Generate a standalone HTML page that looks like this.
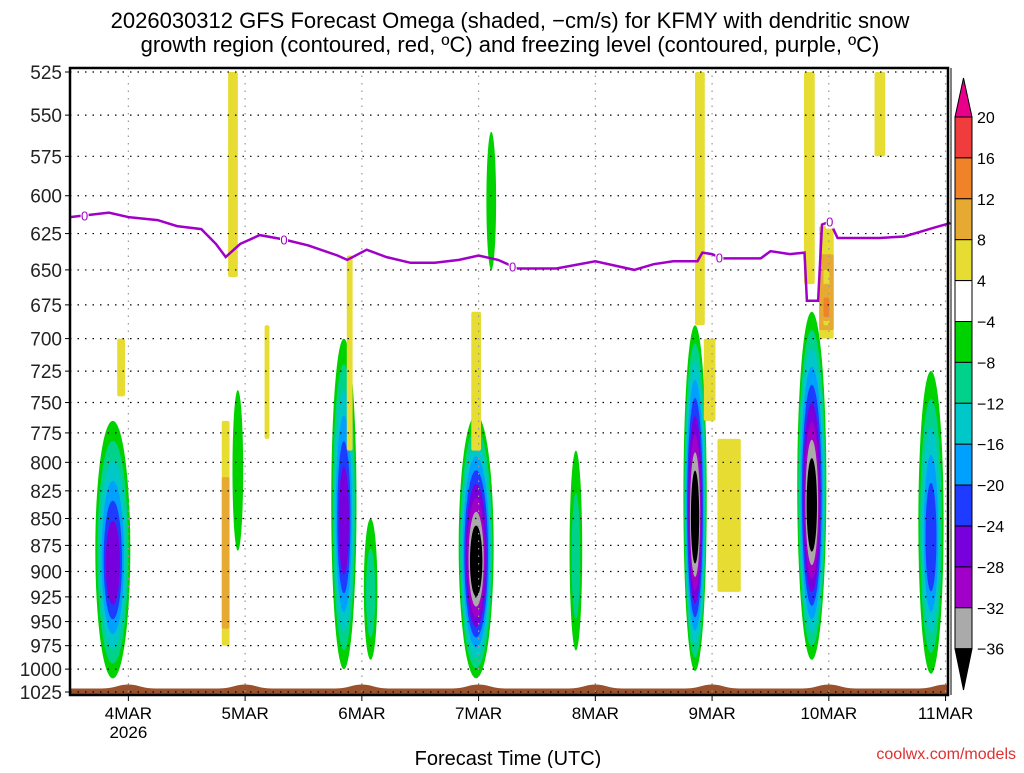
<!DOCTYPE html>
<html><head><meta charset="utf-8"><style>
body{margin:0;background:#fff;width:1024px;height:768px;overflow:hidden;font-family:"Liberation Sans","DejaVu Sans",sans-serif}
svg text{font-family:"Liberation Sans","DejaVu Sans",sans-serif}
</style></head><body>
<svg id="chart" width="1024" height="768" xmlns="http://www.w3.org/2000/svg">
<g>
<text x="510" y="28" text-anchor="middle" font-size="22" fill="#000">2026030312 GFS Forecast Omega (shaded, −cm/s) for KFMY with dendritic snow</text>
<text x="510" y="52" text-anchor="middle" font-size="22" fill="#000">growth region (contoured, red, ºC) and freezing level (contoured, purple, ºC)</text>
</g>
<g id="shade"></g>
<g id="terrain"></g>
<g id="grid"></g>
<g id="frz"></g>
<g id="axes"></g>
<g id="cbar"></g>
<text x="508" y="765" text-anchor="middle" font-size="20">Forecast Time (UTC)</text>
<text x="1016" y="759" text-anchor="end" font-size="16" fill="#e03030">coolwx.com/models</text>
</svg>
<script>
const NS='http://www.w3.org/2000/svg';
// ---- data ----
const pTicks=[525,550,575,600,625,650,675,700,725,750,775,800,825,850,875,900,925,950,975,1000,1025];
const dayLabels=['4MAR','5MAR','6MAR','7MAR','8MAR','9MAR','10MAR','11MAR'];
const dayHours=[12,36,60,84,108,132,156,180];
// negative omega blobs: center hour, half-width hours, top p, bottom p, min value
const negT=[8.8,34.5,56.3,61.8,83.5,104,86.6,128.5,152.5,177];
const negW=[3.6,1.1,2.6,1.4,3.6,1.3,1.0,2.4,3.0,2.6];
const negTop=[765,740,700,850,760,790,560,690,680,725];
const negBot=[1010,880,1000,990,1010,980,650,1002,990,1005];
const negMin=[-30,-8,-30,-12,-40,-12,-8,-40,-40,-24];
// positive omega patches: hour, half-width, top p, bottom p, value
const posT=[10.5,33.5,32,57.5,83.5,129.5,131.5,135.5,152,155.5,155.5,166.5,40.5];
const posW=[0.8,1.0,0.8,0.6,1.0,1.0,1.2,2.4,1.1,1.5,0.6,1.1,0.5];
const posTop=[700,525,765,640,680,525,700,780,525,620,650,525,690];
const posBot=[745,655,975,790,790,690,765,920,660,700,690,575,780];
const posVal=[6,6,9,6,6,6,6,6,6,10,14,6,6];
// freezing level (hour, pressure)
const frzH=[0,8,12,18,22,27,30,32,35,39,44,49,55,57,61,65,70,75,80,84,88,92,100,108,116,120,124,129,130,132,134,142,144,148,151,151.5,153.8,154.6,156.2,157.8,166.4,171.5,174.6,177.7,181];
const frzP=[614,611,614,616,620,622,632,641,632,626,629,633,640,643,636,641,645,645,643,640,643,649,649,644,650,646,644,644,638,639,642,642,637,639,638,672,672,619,617,628,628,627,624,621,618];
const zeroLabelH=[3,44,91,133.5,156.2];
const cbColors=['#f03c3c','#f08228','#e6aa32','#e6dc32','#ffffff','#00d200','#00d28c','#00c8c8','#00a0ff','#1e3cff','#7800dc','#a000c8','#aaaaaa'];
const cbLabels=['20','16','12','8','4','−4','−8','−12','−16','−20','−24','−28','−32','−36'];
// ---- scales ----
const X0=70,X1=948,Y0=72,Y1=692,TOP=68,BOT=695;
const x=h=>X0+(h)*(X1-X0)/180.5;
const y=p=>Y0+Math.log(p/525)/Math.log(1025/525)*(Y1-Y0);
function el(t,a,parent){const e=document.createElementNS(NS,t);for(const k in a)e.setAttribute(k,a[k]);parent.appendChild(e);return e;}
function negColor(v){
 const idx=Math.min(13,Math.floor((-v-4)/4));
 return idx>=13?'#000':cbColors[5+idx];}
function posColor(v){if(v>=20)return '#e8008a';if(v>=16)return cbColors[0];if(v>=12)return cbColors[1];if(v>=8)return cbColors[2];return cbColors[3];}
const shade=document.getElementById('shade');
negT.forEach((t,i)=>{
 const n=Math.floor((-negMin[i]-4)/4);
 const cx=x(t),yt=y(negTop[i]),yb=y(negBot[i]),rw=negW[i]*(X1-X0)/180.5,cy=(yt+yb)/2,rh=(yb-yt)/2;
 for(let k=0;k<n;k++){
  const f=1-k/(n+0.3)*0.85;
  const e=el('ellipse',{cx:cx,cy:cy+(1-f)*rh*0.15,rx:Math.max(1.5,rw*(1-k/(n+0.3)*0.75)),ry:rh*f,fill:negColor(-4-4*k-0.1)},shade);
  
  
 }
});
posT.forEach((t,i)=>{
 const rw=posW[i]*(X1-X0)/180.5;
 const n=Math.max(1,Math.floor((posVal[i]-4)/4)+1);
 for(let k=0;k<n;k++){
  const yt=y(posTop[i]),yb=y(posBot[i]);const sh=k*(yb-yt)*0.25;
  const r=el('rect',{x:x(t)-rw,y:yt+sh,width:rw*2,height:yb-yt-sh*1.3,rx:2,fill:posColor(4+4*k+0.1)},shade);
  
  
 }
});
// terrain
const ter=document.getElementById('terrain');
let d='M'+X0+' '+BOT;
for(let h=0;h<=180.5;h+=0.5){const bump=Math.max(0,Math.cos((h-12)/24*2*Math.PI))**3*4;d+=' L'+x(h).toFixed(1)+' '+(688.5-bump).toFixed(1);}
d+=' L'+X1+' '+BOT+' Z';
const tp=el('path',{d:d,fill:'#9a522d'},ter);


// grid
const grid=document.getElementById('grid');
pTicks.forEach(p=>{const l=el('line',{x1:X0,x2:X1,y1:y(p),y2:y(p),stroke:'#000','stroke-width':1.2,'stroke-dasharray':'1.5 6'},grid);
 });
dayHours.forEach(h=>{const l=el('line',{x1:x(h),x2:x(h),y1:TOP,y2:BOT,stroke:'#999','stroke-width':1.2,'stroke-dasharray':'1.5 6'},grid);
 });
// freezing line
const frz=document.getElementById('frz');
const fl=el('polyline',{points:frzH.map((h,i)=>x(h).toFixed(1)+','+y(frzP[i]).toFixed(1)).join(' '),fill:'none',stroke:'#a000c8','stroke-width':2.5},frz);

zeroLabelH.forEach(h=>{let j=0;while(j<frzH.length-1&&frzH[j+1]<h)j++;const f=(h-frzH[j])/(frzH[j+1]-frzH[j]);const p=frzP[j]+f*(frzP[j+1]-frzP[j]);
 el('rect',{x:x(h)-4,y:y(p)-7,width:8,height:14,fill:'#fff'},frz);
 const t=el('text',{x:x(h),y:y(p)+5,'text-anchor':'middle','font-size':13,fill:'#a000c8'},frz);t.textContent='0';
 });
// axes
const ax=document.getElementById('axes');
el('rect',{x:X0,y:TOP,width:X1-X0,height:BOT-TOP,fill:'none',stroke:'#000','stroke-width':2.5},ax);
el('line',{x1:X1+3,x2:X1+3,y1:TOP,y2:BOT,stroke:'#000','stroke-width':1},ax);
pTicks.forEach(p=>{el('line',{x1:X0-5,x2:X0,y1:y(p),y2:y(p),stroke:'#000'},ax);
 const t=el('text',{x:X0-8,y:y(p)+7,'text-anchor':'end','font-size':19,fill:'#222'},ax);t.textContent=p;
 });
dayHours.forEach((h,i)=>{el('line',{x1:x(h),x2:x(h),y1:BOT,y2:BOT+6,stroke:'#000'},ax);
 const t=el('text',{x:x(h),y:719,'text-anchor':'middle','font-size':17},ax);t.textContent=dayLabels[i];
 });
const yr=el('text',{x:x(12),y:738,'text-anchor':'middle','font-size':17},ax);yr.textContent='2026';


// colorbar
const cb=document.getElementById('cbar');
const CX=955,CW=17,CT=117,CS=40.9;
el('polygon',{points:`${CX},${CT} ${CX+CW},${CT} ${CX+CW/2},78`,fill:'#e8008a',stroke:'#000'},cb);
cbColors.forEach((c,i)=>{const r=el('rect',{x:CX,y:CT+i*CS,width:CW,height:CS,fill:c,stroke:'#000','stroke-width':1},cb);
 });
el('polygon',{points:`${CX},${CT+13*CS} ${CX+CW},${CT+13*CS} ${CX+CW/2},690`,fill:'#000',stroke:'#000'},cb);
cbLabels.forEach((l,i)=>{const t=el('text',{x:CX+CW+5,y:CT+i*CS+6,'font-size':16},cb);t.textContent=l;
 });
</script>
</body></html>
